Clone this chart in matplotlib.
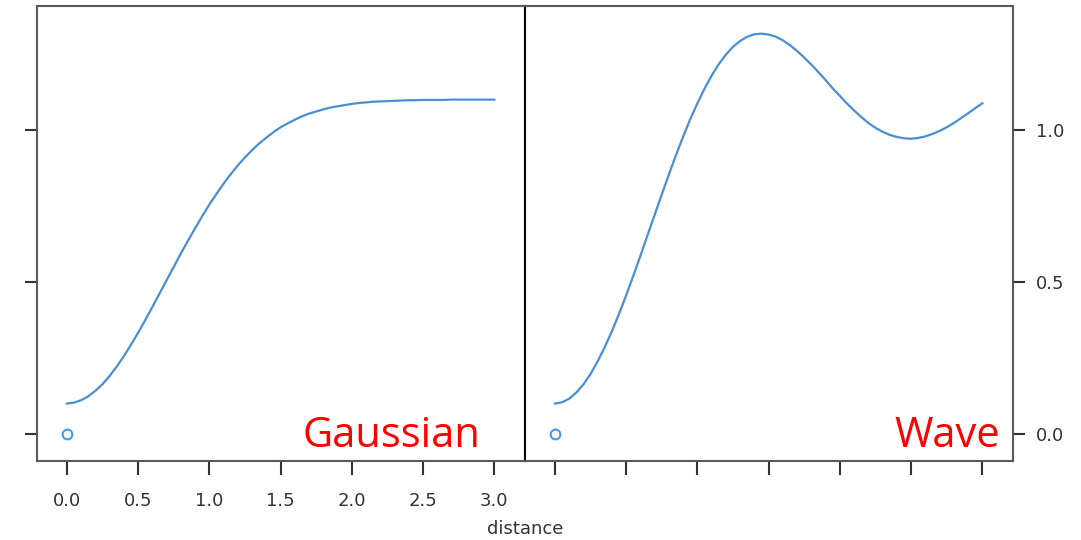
import matplotlib
matplotlib.use("Agg")
import matplotlib.pyplot as plt

# ============ DATA ============
distance = [0.00, 0.05, 0.10, 0.15, 0.20, 0.25, 0.30, 0.35, 0.40, 0.45,
            0.50, 0.55, 0.60, 0.65, 0.70, 0.75, 0.80, 0.85, 0.90, 0.95,
            1.00, 1.05, 1.10, 1.15, 1.20, 1.25, 1.30, 1.35, 1.40, 1.45,
            1.50, 1.55, 1.60, 1.65, 1.70, 1.75, 1.80, 1.85, 1.90, 1.95,
            2.00, 2.05, 2.10, 2.15, 2.20, 2.25, 2.30, 2.35, 2.40, 2.45,
            2.50, 2.55, 2.60, 2.65, 2.70, 2.75, 2.80, 2.85, 2.90, 2.95,
            3.00]

gaussian = [0.100, 0.103, 0.111, 0.124, 0.142, 0.164, 0.191, 0.222, 0.256, 0.294,
            0.333, 0.375, 0.418, 0.462, 0.506, 0.550, 0.594, 0.636, 0.677, 0.717,
            0.755, 0.790, 0.824, 0.855, 0.884, 0.910, 0.934, 0.956, 0.975, 0.993,
            1.009, 1.022, 1.034, 1.045, 1.054, 1.061, 1.068, 1.074, 1.078, 1.082,
            1.086, 1.089, 1.091, 1.093, 1.094, 1.095, 1.096, 1.097, 1.098, 1.098,
            1.099, 1.099, 1.099, 1.099, 1.100, 1.100, 1.100, 1.100, 1.100, 1.100,
            1.100]

wave = [0.100, 0.104, 0.116, 0.136, 0.163, 0.197, 0.239, 0.286, 0.338, 0.395,
        0.456, 0.520, 0.586, 0.654, 0.721, 0.788, 0.854, 0.918, 0.978, 1.036,
        1.088, 1.136, 1.179, 1.217, 1.248, 1.274, 1.293, 1.307, 1.315, 1.317,
        1.314, 1.307, 1.295, 1.279, 1.260, 1.238, 1.215, 1.190, 1.164, 1.137,
        1.112, 1.087, 1.064, 1.043, 1.023, 1.007, 0.994, 0.984, 0.977, 0.973,
        0.971, 0.974, 0.979, 0.987, 0.997, 1.009, 1.023, 1.039, 1.055, 1.072,
        1.088]

point_x = [0.0]
point_y = [0.0]

panel_names = ["Gaussian", "Wave"]
x_ticks = [0.0, 0.5, 1.0, 1.5, 2.0, 2.5, 3.0]
y_ticks = [0.0, 0.5, 1.0]

# ============ STYLE ============
LINE_COLOR = "#4a8fd4"
POINT_COLOR = "#4a9ad8"
SPINE_COLOR = "#5a5a5a"
TICK_COLOR = "#333333"
LABEL_COLOR = "#333333"

fig = plt.figure(figsize=(10.81, 5.40), dpi=100)
ax_left = fig.add_axes([37 / 1081, 1 - 461 / 540, 488 / 1081, 455 / 540])
ax_right = fig.add_axes([525 / 1081, 1 - 461 / 540, 488 / 1081, 455 / 540])

for ax, name, curve in zip([ax_left, ax_right], panel_names, [gaussian, wave]):
    ax.plot(distance, curve, color=LINE_COLOR, lw=1.6)
    ax.plot(point_x, point_y, "o", mfc="none", mec=POINT_COLOR, ms=7, mew=1.5)
    ax.set_xlim(-0.21, 3.215)
    ax.set_ylim(-0.089, 1.408)
    ax.set_xticks(x_ticks)
    ax.set_yticks(y_ticks)
    for s in ax.spines.values():
        s.set_color(SPINE_COLOR)
        s.set_linewidth(1.5)
    ax.tick_params(axis="both", direction="out", color=TICK_COLOR, width=1.5,
                   labelcolor=LABEL_COLOR, labelsize=13)
    ax.tick_params(axis="x", length=10, pad=12)
    ax.tick_params(axis="y", length=8.5, pad=8)

# panel names in red, bottom right corner
ax_left.text(0.908, 0.031, "Gaussian", transform=ax_left.transAxes, ha="right",
             va="baseline", color="#ff0000", fontsize=30, family="Open Sans")
ax_right.text(0.973, 0.031, "Wave", transform=ax_right.transAxes, ha="right",
              va="baseline", color="#ff0000", fontsize=30, family="Open Sans")

# left panel: ticks only on the left, labels only on the x axis
ax_left.tick_params(axis="y", labelleft=False)
ax_left.set_xticklabels([f"{t:.1f}" for t in x_ticks])
ax_left.spines["right"].set_color("black")

# right panel: y labels on the right, x ticks without labels
ax_right.yaxis.tick_right()
ax_right.set_yticklabels([f"{t:.1f}" for t in y_ticks])
ax_right.tick_params(axis="x", labelbottom=False)
ax_right.spines["left"].set_color("black")

fig.text(525 / 1081, 2 / 540, "distance", ha="center", va="bottom",
         fontsize=13, color=LABEL_COLOR)

fig.savefig("out.png", dpi=100)
